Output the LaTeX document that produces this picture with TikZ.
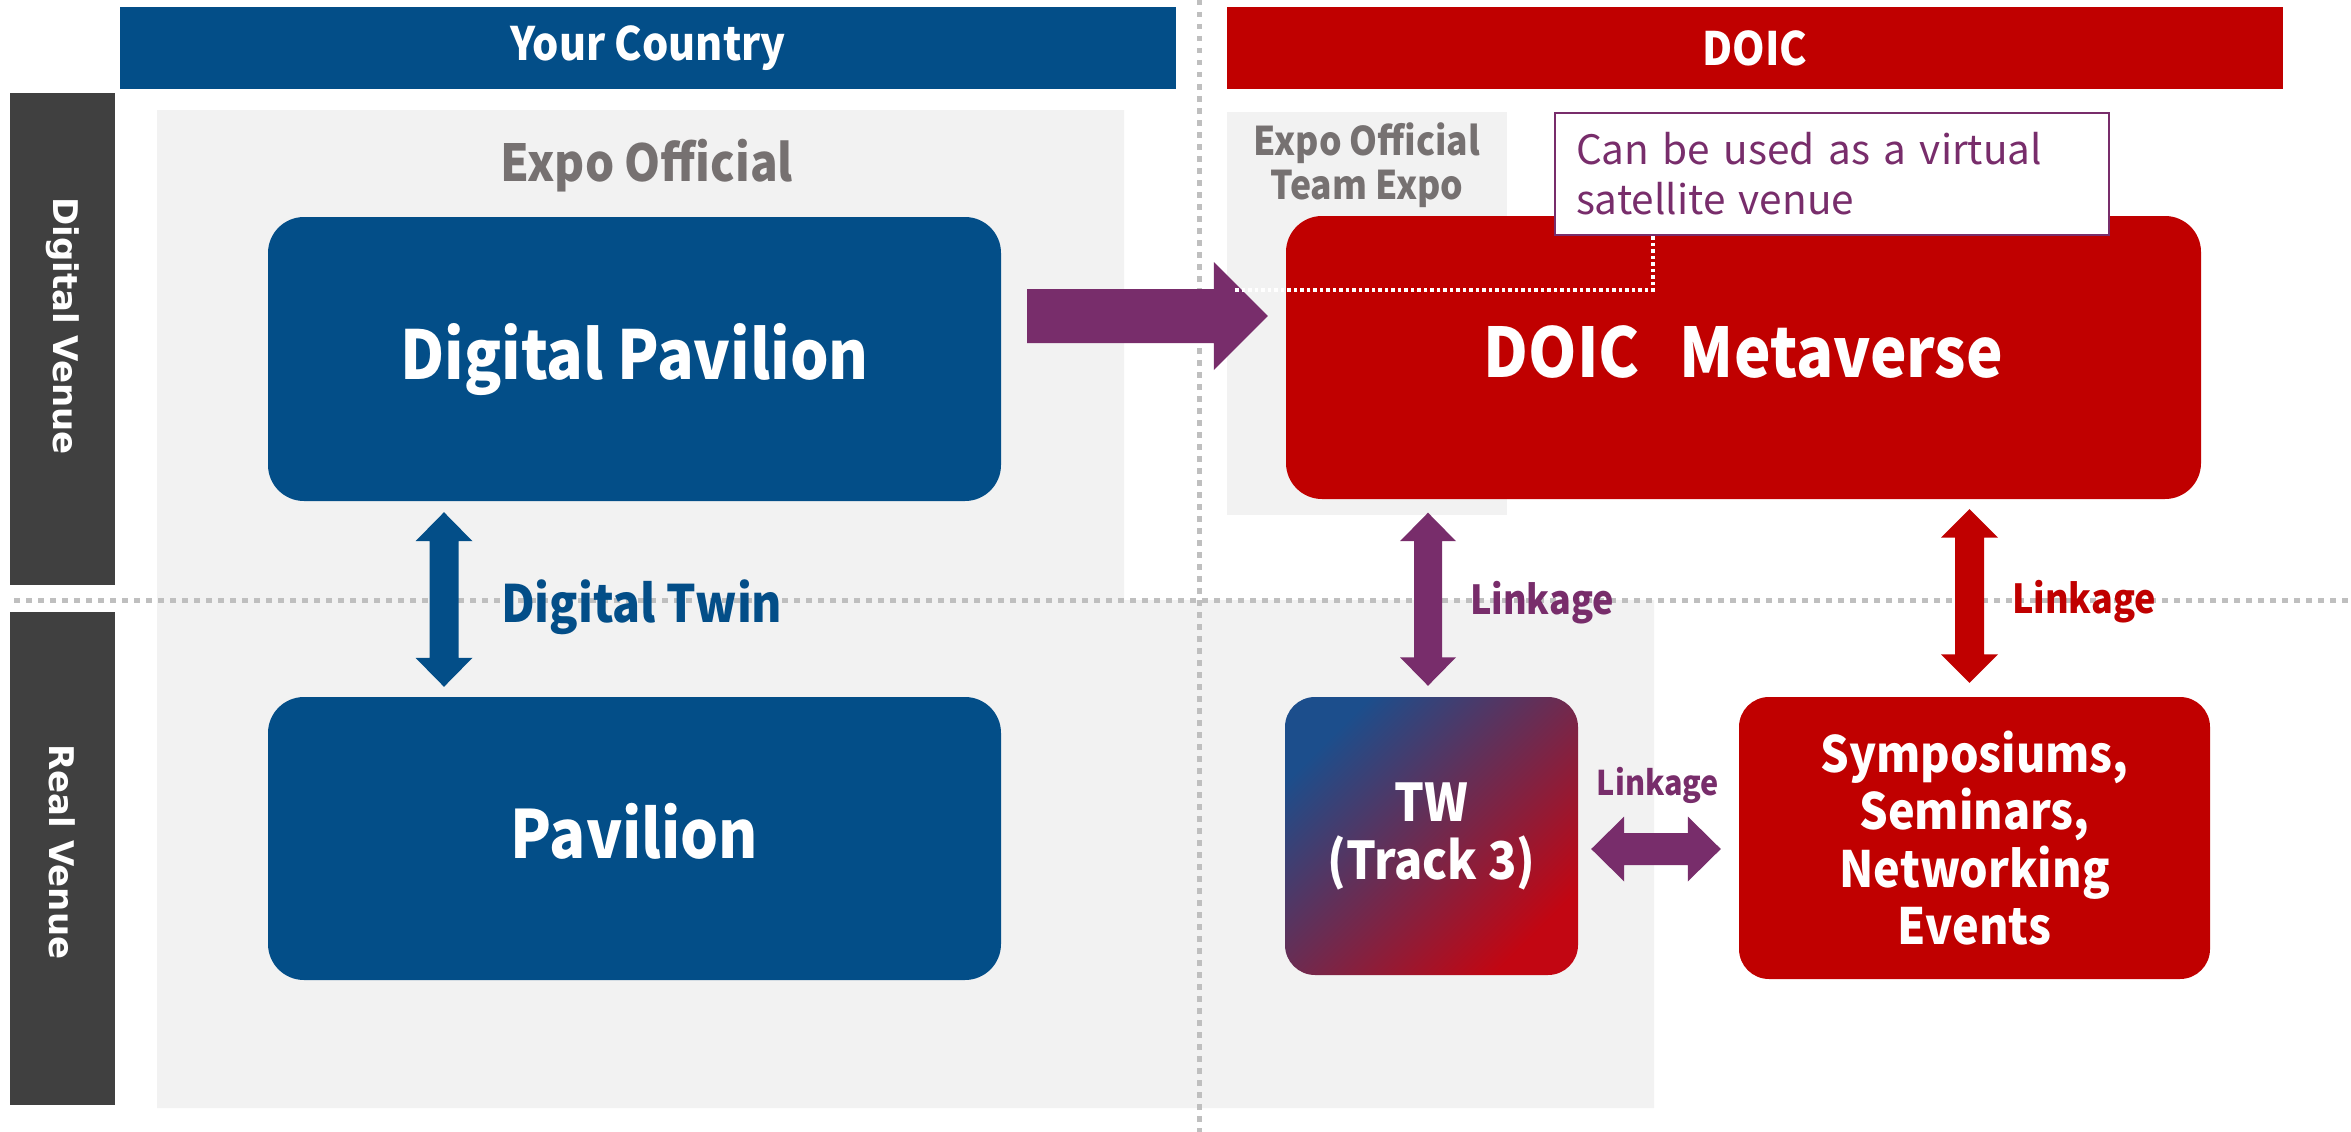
\documentclass[tikz,border=0pt]{standalone}
\usepackage{fontspec}
\setmainfont{Noto Sans CJK JP}[BoldFeatures={FakeStretch=0.9}]
\newfontfamily\sidefont{DejaVu Sans}
\usetikzlibrary{calc}
\definecolor{cblue}{RGB}{3,78,136}
\definecolor{cred}{RGB}{192,0,0}
\definecolor{cpurple}{RGB}{120,45,107}
\definecolor{cdark}{RGB}{64,64,64}
\definecolor{cbg}{RGB}{242,242,242}
\definecolor{cgraytxt}{RGB}{118,113,113}
\definecolor{cdot}{RGB}{191,191,191}
\definecolor{ctwblue}{RGB}{28,78,140}
\definecolor{ctwmid}{RGB}{136,54,102}
\definecolor{ctwred}{RGB}{194,6,18}
% fat arrows drawn as filled outlines between two points
\newcommand{\FatV}[6]{\fill[#1] let \p1=(#2), \p2=(#3) in
  (\x1,\y1) -- (\x1+#5pt,\y1-#6pt) -- (\x1+#4pt,\y1-#6pt) -- (\x1+#4pt,\y2+#6pt)
  -- (\x1+#5pt,\y2+#6pt) -- (\x1,\y2) -- (\x1-#5pt,\y2+#6pt) -- (\x1-#4pt,\y2+#6pt)
  -- (\x1-#4pt,\y1-#6pt) -- (\x1-#5pt,\y1-#6pt) -- cycle;}
\newcommand{\FatH}[6]{\fill[#1] let \p1=(#2), \p2=(#3) in
  (\x1,\y1) -- (\x1+#6pt,\y1+#5pt) -- (\x1+#6pt,\y1+#4pt) -- (\x2-#6pt,\y1+#4pt)
  -- (\x2-#6pt,\y1+#5pt) -- (\x2,\y1) -- (\x2-#6pt,\y1-#5pt) -- (\x2-#6pt,\y1-#4pt)
  -- (\x1+#6pt,\y1-#4pt) -- (\x1+#6pt,\y1-#5pt) -- cycle;}
\newcommand{\FatR}[6]{\fill[#1] let \p1=(#2), \p2=(#3) in
  (\x1,\y1+#4pt) -- (\x2-#6pt,\y1+#4pt) -- (\x2-#6pt,\y1+#5pt) -- (\x2,\y1)
  -- (\x2-#6pt,\y1-#5pt) -- (\x2-#6pt,\y1-#4pt) -- (\x1,\y1-#4pt) -- cycle;}
\tikzset{
  divider/.style={cdot, line width=5pt, dash pattern=on 5.5pt off 6.5pt},
  header/.style={minimum width=1056pt, minimum height=82pt, inner sep=0pt, text=white,
    font=\fontsize{46}{55}\selectfont\bfseries},
  sidebar/.style={fill=cdark, rotate=-90, minimum height=105pt, inner sep=0pt, text=white,
    font=\sidefont\fontsize{34}{40}\selectfont\bfseries},
  bigbox/.style={rounded corners=36pt, inner sep=0pt, text=white, text height=53pt, text depth=13pt},
  midbox/.style={rounded corners=30pt, inner sep=0pt, text=white, align=center},
  graylbl/.style={inner sep=0pt, text=cgraytxt},
  lbl/.style={inner sep=0pt, font=\fontsize{40}{48}\selectfont\bfseries},
  callout/.style={draw=cpurple, line width=2.5pt, fill=white, minimum width=554pt,
    minimum height=122pt, text width=512pt, align=left, inner sep=0pt, text=cpurple,
    font=\fontsize{40.5}{50}\selectfont},
  whitedots/.style={white, line width=3.5pt, dash pattern=on 3.5pt off 3pt}
}
\begin{document}
\begin{tikzpicture}[x=1pt,y=-1pt]
\useasboundingbox (0,0) rectangle (2351,1132);
% background areas
\fill[cbg] (157,110) -- (1124,110) -- (1124,600) -- (1654,600) -- (1654,1108) -- (157,1108) -- cycle;
\fill[cbg] (1227,112) rectangle (1507,515);
% dividers
\draw[divider] (14,600) -- (2351,600);
\draw[divider] (1199,0) -- (1199,1132);
% headers
\node[header, fill=cblue] (hyc) at (648,48) {Your Country};
\node[header, fill=cred] (hdoic) at (1755,48) {DOIC};
% side bars
\node[sidebar, minimum width=492pt] (dv) at (62.5,339) {Digital Venue\kern26pt};
\node[sidebar, minimum width=493pt] (rv) at (62.5,858.5) {Real Venue\kern13pt};
% area labels
\node[graylbl, anchor=base, font=\fontsize{51}{60}\selectfont\bfseries] (eo) at (647,181) {Expo Official};
\node[graylbl, align=center, font=\fontsize{39.5}{44}\selectfont\bfseries] (te) at (1367,165) {Expo Official\\Team Expo};
% boxes
\node[bigbox, fill=cblue, minimum width=733pt, minimum height=284pt,
  font=\fontsize{67.5}{80}\selectfont\bfseries] (dp) at (634.5,359) {Digital Pavilion};
\node[bigbox, fill=cblue, minimum width=733pt, minimum height=283pt,
  font=\fontsize{66.5}{80}\selectfont\bfseries] (pav) at (634.5,838.5) {Pavilion};
\node[bigbox, fill=cred, minimum width=915pt, minimum height=283pt,
  font=\fontsize{68.5}{80}\selectfont\bfseries] (dm) at (1743.5,357.5) {DOIC\hspace{40pt}Metaverse};
\node[midbox, top color=ctwblue, middle color=ctwmid, bottom color=ctwred, shading angle=45, minimum width=293pt,
  minimum height=278pt, font=\fontsize{52}{58}\selectfont\bfseries] (tw) at (1431.5,836) {TW\\(Track 3)};
\node[midbox, fill=cred, minimum width=471pt, minimum height=282pt,
  font=\fontsize{50}{57.5}\selectfont\bfseries] (sym) at (1974.5,838) {Symposiums,\\Seminars,\\Networking\\Events};
% connectors
\coordinate (a1t) at ([xshift=-190.5pt,yshift=-11pt]dp.south);
\coordinate (a1b) at ([xshift=-190.5pt,yshift=10pt]pav.north);
\FatV{cblue}{a1t}{a1b}{14.5}{28.5}{29}
\coordinate (l1t) at (dm.south -| tw.north);
\FatV{cpurple}{[xshift=-3.5pt,yshift=-13.5pt]l1t}{[xshift=-3.5pt,yshift=11pt]tw.north}{14}{28}{28.5}
\coordinate (l2t) at (dm.south -| sym.north);
\FatV{cred}{[xshift=-5pt,yshift=-10pt]l2t}{[xshift=-5pt,yshift=14pt]sym.north}{14.5}{28.5}{28.5}
\coordinate (l3r) at (tw.east -| sym.west);
\FatH{cpurple}{[xshift=13pt,yshift=-13pt]tw.east}{[xshift=-18pt,yshift=-13pt]l3r}{16}{32.5}{33}
\coordinate (bigr) at (dp.east -| dm.west);
\FatR{cpurple}{[xshift=26pt,yshift=43pt]dp.east}{[xshift=-18pt,yshift=43pt]bigr}{27}{54}{54}
% connector labels
\node[lbl, anchor=base west, text=cblue, font=\fontsize{51.5}{60}\selectfont\bfseries] (dt) at (501,622) {Digital Twin};
\node[lbl, anchor=base west, text=cpurple] (lk1) at (1470,614) {Linkage};
\node[lbl, anchor=base west, text=cred] (lk2) at (2012,613) {Linkage};
\node[lbl, anchor=base, text=cpurple, font=\fontsize{34}{40}\selectfont\bfseries] (lk3) at (1658,795) {Linkage};
% callout
\node[callout] (co) at (1832,174) {Can be used as a virtual\\satellite venue};
\coordinate (coend) at (1235,290);
\draw[whitedots] ([xshift=-179pt]co.south) |- (coend);
\end{tikzpicture}
\end{document}
